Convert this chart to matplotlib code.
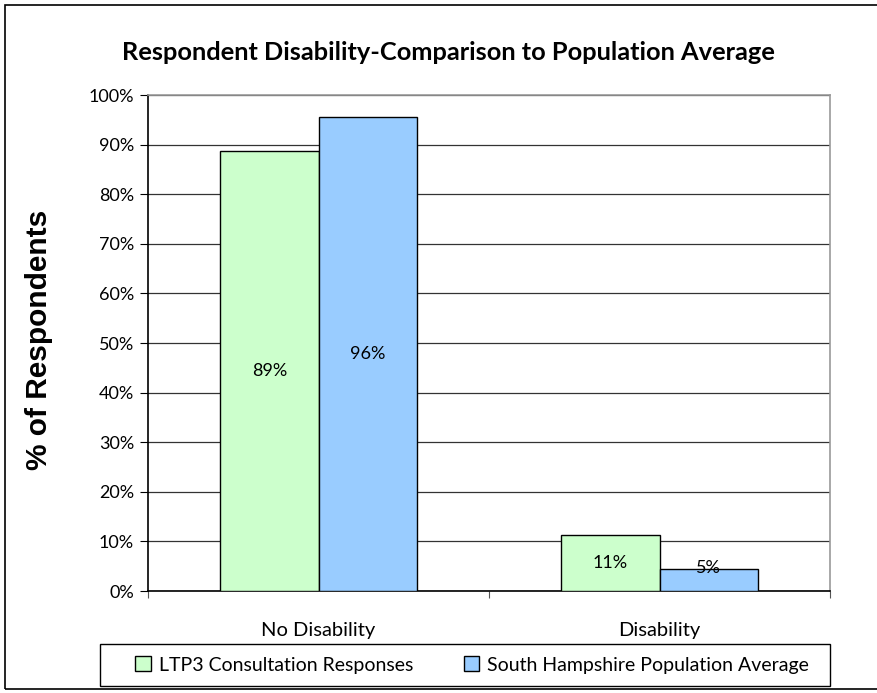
import numpy as np
import matplotlib
matplotlib.use("Agg")
import matplotlib.pyplot as plt
from matplotlib.patches import Rectangle

categories = ["No Disability", "Disability"]
ltp3_values = [88.7, 11.2]
sh_values = [95.6, 4.5]
ltp3_labels = ["89%", "11%"]
sh_labels = ["96%", "5%"]
series_names = ["LTP3 Consultation Responses", "South Hampshire Population Average"]
y_ticks = list(range(0, 101, 10))

green = "#CCFFCC"
blue = "#99CCFF"

plt.rcParams['font.family'] = ['Lato', 'DejaVu Sans']

fig = plt.figure(figsize=(8.77, 6.93), dpi=100)
ax = fig.add_axes([148 / 877, 1 - 591 / 693, 682 / 877, 496 / 693])

x = np.arange(len(categories))
w = 0.2875
b1 = ax.bar(x - w / 2, ltp3_values, w, color=green, edgecolor="black", linewidth=1, zorder=3, label=series_names[0])
b2 = ax.bar(x + w / 2, sh_values, w, color=blue, edgecolor="black", linewidth=1, zorder=3, label=series_names[1])

# labels in the middle of the bars (small bar label nudged up like Excel does)
for bars, labels in [(b1, ltp3_labels), (b2, sh_labels)]:
    for rect, lab in zip(bars, labels):
        h = rect.get_height()
        ax.text(rect.get_x() + rect.get_width() / 2, max(h / 2, 4.6), lab,
                ha="center", va="center", fontsize=13, zorder=4)

ax.set_xlim(-0.5, 1.5)
ax.set_ylim(0, 100)
ax.set_yticks(y_ticks)
ax.set_yticklabels(["{}%".format(t) for t in y_ticks], fontsize=13)
ax.yaxis.grid(True, color="#333333", linewidth=0.9, zorder=0)

ax.set_xticks([-0.5, 0.5, 1.5])
ax.set_xticklabels([])
ax.set_xticks(x, minor=True)
ax.set_xticklabels(categories, minor=True, fontsize=14.5)
ax.tick_params(axis="x", which="minor", length=0, pad=22)
ax.tick_params(axis="x", which="major", length=5, color="#555555", direction="out")
ax.tick_params(axis="y", length=6, direction="out", pad=4)

ax.spines["left"].set_color("black")
ax.spines["bottom"].set_color("black")
ax.spines["top"].set_color("#999999")
ax.spines["right"].set_color("#999999")
for s in ax.spines.values():
    s.set_linewidth(1.2)

fig.text(448 / 877, 1 - 52 / 693, "Respondent Disability-Comparison to Population Average",
         ha="center", va="center", fontsize=18.3, fontweight="bold")
fig.text(39 / 877, 1 - 340 / 693, "% of Respondents", rotation=90, ha="center", va="center",
         fontsize=21.5, fontweight="bold", family="Liberation Sans")

# legend box drawn separately so the entries can sit centred inside it
fig.patches.append(Rectangle((100 / 877, 1 - 686 / 693), 730 / 877, 42 / 693, transform=fig.transFigure,
                             fill=False, edgecolor="black", linewidth=1.0))
leg = fig.legend(loc="center", bbox_to_anchor=(472 / 877, 1 - 665 / 693),
                 ncol=2, fontsize=14, frameon=False,
                 handlelength=0.8, handleheight=0.8, borderaxespad=0,
                 handletextpad=0.4, columnspacing=2.6)

# outer chart border
fig.patches.append(Rectangle((5 / 877, 4 / 693), 1.0, 1 - 9 / 693, transform=fig.transFigure,
                             fill=False, edgecolor="black", linewidth=1.2))

fig.savefig("out.png", dpi=100)
